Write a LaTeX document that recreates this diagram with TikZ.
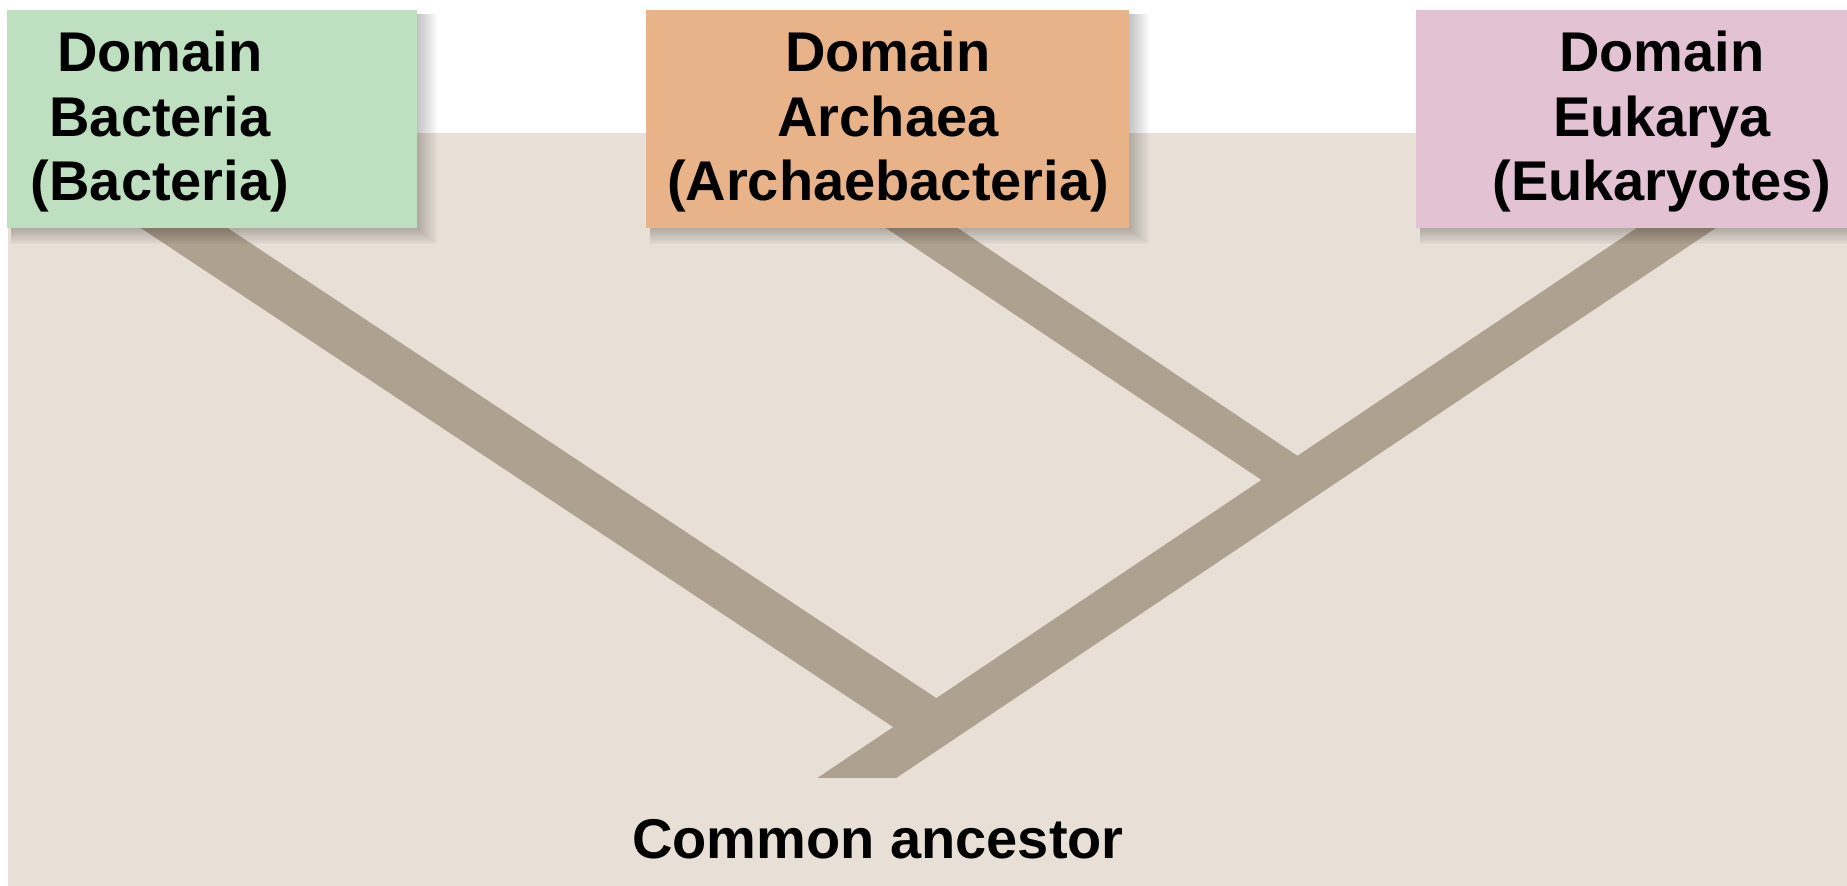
\documentclass[tikz,border=0pt]{standalone}
\usepackage{fontspec}
\setmainfont{Liberation Sans}
\definecolor{bgbeige}{HTML}{E8E0D7}
\definecolor{bandcol}{HTML}{AFA18F}
\definecolor{greenbox}{HTML}{BEE0C1}
\definecolor{orangebox}{HTML}{E9B389}
\definecolor{pinkbox}{HTML}{E2C2D3}
\begin{document}
\begin{tikzpicture}[x=1pt,y=-1pt,
  domainbox/.style={rectangle, inner sep=0pt, anchor=north west, draw=none},
  lbl/.style={font=\fontsize{56}{64.5}\selectfont\bfseries, align=center, inner sep=0pt, text=black},
  band/.style={draw=bandcol, line cap=butt}]
\useasboundingbox (0,0) rectangle (1847,886);
% background
\fill[white] (0,0) rectangle (1847,886);
\fill[bgbeige] (8,133) rectangle (1847,886);

% named coordinates for branches
\coordinate (bacStart) at (142,200);
\coordinate (J1) at (935,726);
\coordinate (arcStart) at (880,200);
\coordinate (J2) at (1299,481);
\coordinate (eukStart) at (1718,200);
\coordinate (anc) at (824,800);

% branches
\draw[band, line width=48pt] (bacStart) -- (J1);
\draw[band, line width=40pt] (arcStart) -- (J2);
\begin{scope}
  \clip (0,0) rectangle (1847,777);
  \draw[band, line width=44pt] (anc) -- (eukStart);
\end{scope}

% boxes
\node[domainbox, minimum width=410pt, minimum height=218pt] (bac) at (7,10) {};
\node[domainbox, minimum width=483pt, minimum height=218pt] (arc) at (646,10) {};
\node[domainbox, minimum width=431pt, minimum height=218pt] (euk) at (1416,10) {};

% soft shadows
\foreach \b in {bac,arc,euk}{
  \foreach \i in {1,...,10}{
    \fill[black, opacity=0.025] ([xshift=4pt,yshift=-4pt]\b.north west) rectangle ([xshift=\i*2pt,yshift=-\i*1.6pt]\b.south east);
  }
}
\fill[greenbox] (bac.north west) rectangle (bac.south east);
\fill[orangebox] (arc.north west) rectangle (arc.south east);
\fill[pinkbox] (euk.north west) rectangle (euk.south east);

% labels
\node[lbl] (bacT) at (160,122) {Domain\\Bacteria\\(Bacteria)};
\node[lbl] (arcT) at (888,122) {Domain\\Archaea\\(Archaebacteria)};
\node[lbl] (eukT) at (1662,122) {Domain\\Eukarya\\(Eukaryotes)};
\node[lbl, anchor=base] (ancT) at (878,858) {Common ancestor};
\end{tikzpicture}
\end{document}
